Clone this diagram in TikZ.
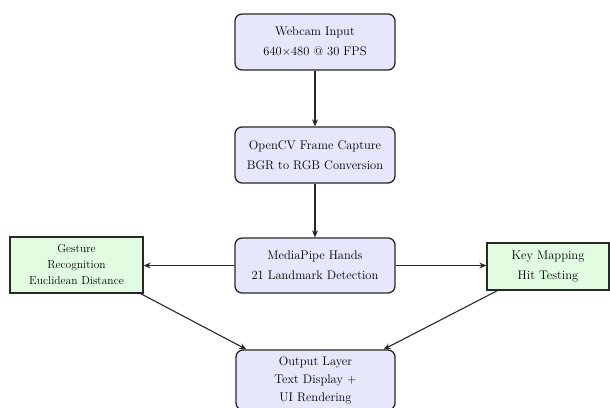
\documentclass[tikz,border=0pt]{standalone}
\usetikzlibrary{arrows.meta,calc}
\definecolor{boxblue}{RGB}{230,230,252}
\definecolor{boxgreen}{RGB}{226,252,226}
\definecolor{edge}{RGB}{40,40,40}
\begin{document}
\begin{tikzpicture}[x=1pt,y=-1pt,
  mainbox/.style={draw=edge,line width=1.3pt,fill=boxblue,rounded corners=7pt,
    minimum width=160pt,inner sep=0pt,align=center,
    font=\fontsize{12.5}{20}\selectfont},
  sidebox/.style={draw=edge,line width=1.3pt,fill=boxgreen,
    inner sep=0pt,align=center,font=\fontsize{11.5}{16}\selectfont},
  arr/.style={draw=edge,line width=1.1pt,-{Stealth[length=7pt,width=6pt]}}]
\useasboundingbox (0,0) rectangle (610,407);
\node[mainbox,minimum height=56pt] (webcam) at (315,42) {Webcam Input\\640$\times$480 @ 30 FPS};
\node[mainbox,minimum height=56pt] (opencv) at (315,155) {OpenCV Frame Capture\\BGR to RGB Conversion};
\node[mainbox,minimum height=55pt] (mp) at (315,265.5) {MediaPipe Hands\\21 Landmark Detection};
\node[sidebox,minimum width=133pt,minimum height=56pt] (gesture) at (76.5,265) {Gesture\\Recognition\\Euclidean Distance};
\node[sidebox,minimum width=122pt,minimum height=47pt,font=\fontsize{12.5}{20}\selectfont] (key) at (548,266.5) {Key Mapping\\Hit Testing};
\node[mainbox,minimum width=159pt,minimum height=60pt,font=\fontsize{12.5}{18}\selectfont] (out) at (315.5,380) {Output Layer\\Text Display +\\UI Rendering};
\draw[arr] (webcam) -- (opencv);
\draw[arr] (opencv) -- (mp);
\draw[arr] (mp.west) -- (mp.west -| gesture.east);
\draw[arr] (mp.east) -- (mp.east -| key.west);
\draw[arr] ([xshift=-3pt]gesture.south east) -- ([xshift=11pt]out.north west);
\draw[arr] ([xshift=11pt]key.south west) -- ([xshift=-12pt]out.north east);
\end{tikzpicture}
\end{document}
